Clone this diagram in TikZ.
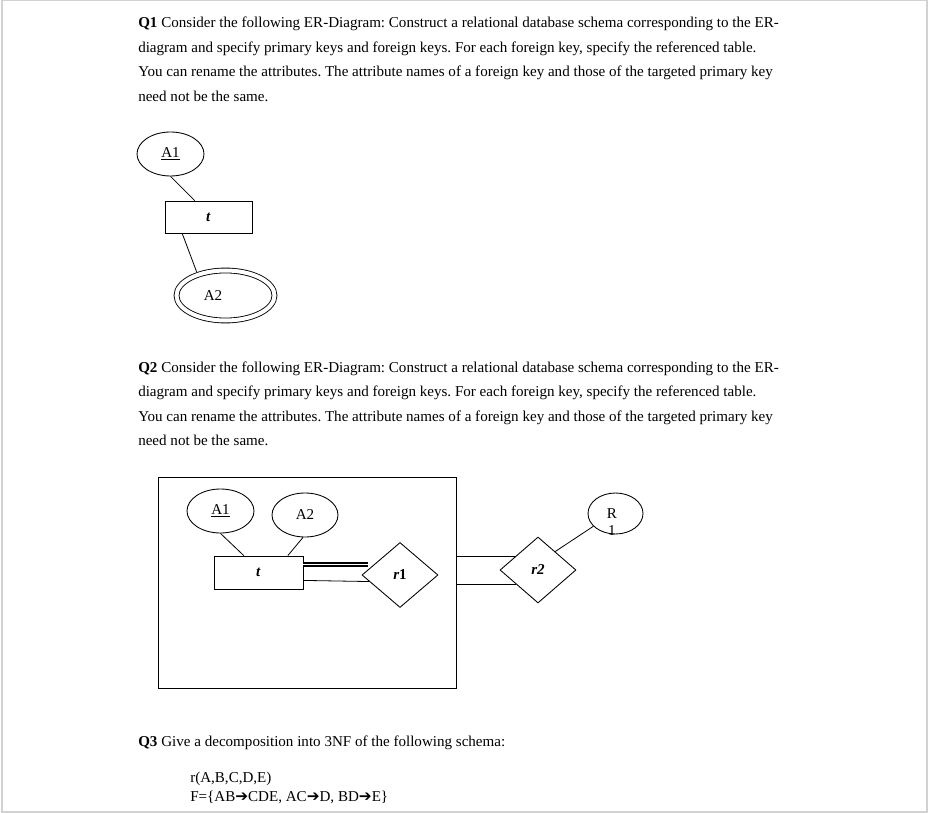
\documentclass[tikz,border=0pt]{standalone}
\usepackage{fontspec}
\setmainfont{Liberation Serif}
\newfontfamily\arrowfont{DejaVu Sans}
\usetikzlibrary{shapes.geometric,positioning}

\newcommand{\fdarrow}{{\arrowfont\fontsize{11.5}{12}\selectfont ➔}}
\frenchspacing

\begin{document}
\begin{tikzpicture}[
    x=0.75pt, y=-0.75pt,
    every node/.style={font=\fontsize{11.3}{12.75}\selectfont},
    textline/.style={anchor=base west, inner sep=0pt},
    attr/.style={ellipse, draw, line width=0.65pt, inner sep=0pt},
    weakattr/.style={ellipse, draw, double, double distance=3pt, line width=0.65pt, inner sep=0pt},
    entity/.style={rectangle, draw, line width=0.65pt, inner sep=0pt},
    relship/.style={diamond, draw, line width=0.65pt, inner sep=0pt},
    link/.style={line width=0.6pt},
    total/.style={double, double distance=0.7pt, line width=1.3pt},
]
\useasboundingbox (0,0) rectangle (929,813);
\draw[gray!35, line width=1.2pt] (2,0.6) rectangle (927,812);

% question 1
\node[textline] (q1l1) at (138,28) {\textbf{Q1} Consider the following ER-Diagram: Construct a relational database schema corresponding to the ER-};
\node[textline] (q1l2) at (138,52.5) {diagram and specify primary keys and foreign keys. For each foreign key, specify the referenced table.};
\node[textline] (q1l3) at (138,77) {You can rename the attributes. The attribute names of a foreign key and those of the targeted primary key};
\node[textline] (q1l4) at (138,101.5) {need not be the same.};

\node[attr, minimum width=50.25pt, minimum height=33pt] (q1a1) at (170.5,154) {\underline{A1}};
\node[entity, minimum width=65.25pt, minimum height=24pt] (q1t) at (208.5,217) {\textbf{\textit{t}}};
\node[weakattr, minimum width=73.5pt, minimum height=37.5pt] (q1a2) at (225.5,295.5) {};
\node (q1a2txt) at (213,295.5) {A2};
\draw[link] (q1a1.south) -- (q1t.130);
\draw[link, shorten >=2.2pt] (q1t.212) -- (q1a2.143);

% question 2
\node[textline] (q2l1) at (138,372) {\textbf{Q2} Consider the following ER-Diagram: Construct a relational database schema corresponding to the ER-};
\node[textline] (q2l2) at (138,396.5) {diagram and specify primary keys and foreign keys. For each foreign key, specify the referenced table.};
\node[textline] (q2l3) at (138,421) {You can rename the attributes. The attribute names of a foreign key and those of the targeted primary key};
\node[textline] (q2l4) at (138,445.5) {need not be the same.};

\node[entity, minimum width=223.5pt, minimum height=158.25pt] (q2box) at (307,582.5) {};
\node[attr, minimum width=50.25pt, minimum height=33pt] (q2a1) at (220.5,511) {\underline{A1}};
\node[attr, minimum width=49.5pt, minimum height=33pt] (q2a2) at (305,515) {A2};
\node[entity, minimum width=66.75pt, minimum height=24.75pt] (q2t) at (258.5,572.5) {\textbf{\textit{t}}};
\node[relship, minimum width=57pt, minimum height=48.75pt] (r1) at (400,575) {\textbf{\textit{r}1}};
\node[relship, minimum width=57pt, minimum height=49.5pt] (r2) at (538,570) {\textbf{\textit{r2}}};
\node[attr, minimum width=41.25pt, minimum height=30.75pt] (q2r1) at (615.5,513.5) {};
\node[align=center, inner sep=0pt] (q2r1txt) at (612,522) {R\\1};

\draw[link] (q2a1.south) -- (q2t.131);
\draw[link] (q2a2.265) -- (q2t.30);
\draw[total, shorten >=-4.5pt] (q2t.10) -- (q2t.10 -| r1.west);
\draw[link] (q2t.-10) -- (r1.192);
\draw[link] (r2.148) -- (r2.148 -| q2box.east);
\draw[link] (r2.212) -- (r2.212 -| q2box.east);
\draw[link] (r2.47) -- (q2r1.210);

% question 3
\node[textline] (q3l1) at (138,746) {\textbf{Q3} Give a decomposition into 3NF of the following schema:};
\node[textline] (q3schema) at (190,782) {r(A,B,C,D,E)};
\node[textline] (q3fds) at (190,801) {F=\{AB\fdarrow CDE, AC\fdarrow D, BD\fdarrow E\}};
\end{tikzpicture}
\end{document}
